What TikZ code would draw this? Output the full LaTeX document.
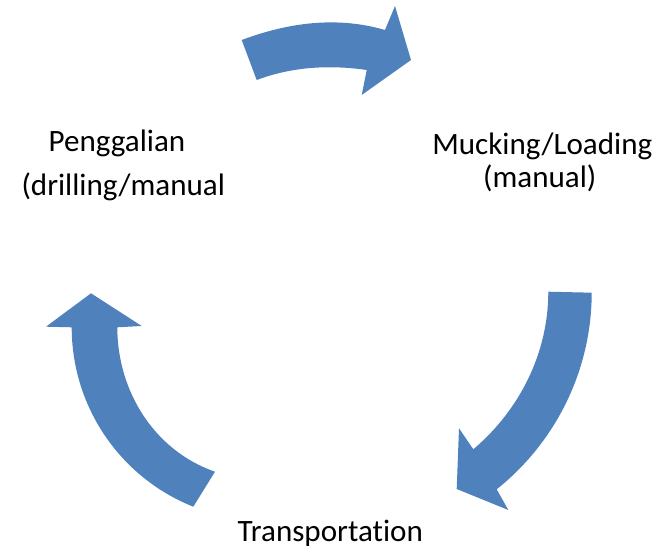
\documentclass[tikz,border=0pt]{standalone}
\usepackage{fontspec}
\setmainfont{Carlito}[Ligatures=NoCommon]
\usepackage{tikz}
\definecolor{arrowblue}{HTML}{4F81BD}

\begin{document}
\begin{tikzpicture}[x=0.75pt, y=-0.75pt,
        blockarrow/.style={fill=arrowblue, draw=none},
        lbl/.style={anchor=base, inner sep=0pt, font=\fontsize{23.3}{28}\selectfont}]
        \useasboundingbox (0,0) rectangle (657,548);

        % top arrow, left to right
        \fill[blockarrow] (241.7,40) .. controls (288.5,22.5) and (337,16) .. (385,30)
            -- (395,6) -- (411,60) -- (361.7,95) -- (366.7,70)
            .. controls (331.7,65) and (294.1,66) .. (256.7,80) -- cycle;

        % right arrow, going down
        \fill[blockarrow] (591.7,292.7) .. controls (591.7,369.3) and (556.5,441.5) .. (496.7,489.3)
            -- (508.3,510) -- (456.7,489) -- (459,428.3) -- (473.3,449.3)
            .. controls (519.9,409.8) and (548.3,352.8) .. (548.3,291.7) -- cycle;

        % left arrow, going up
        \fill[blockarrow] (193.3,506.7) .. controls (119.8,477.4) and (71.7,406.4) .. (71.7,327.3)
            -- (46,326.7) -- (91,293.3) -- (141.7,326) -- (117.3,327.3)
            .. controls (117.3,391.3) and (154.5,450.8) .. (215,471.7) -- cycle;

        \node[lbl] (penggalian) at (117,152) {Penggalian};
        \node[lbl] (drilling) at (123.3,196) {(drilling/manual};
        \node[lbl] (mucking) at (542.3,155) {Mucking/Loading};
        \node[lbl] (manual) at (539.8,188) {(manual)};
        \node[lbl] (transport) at (330.3,541.7) {Transportation};
    \end{tikzpicture}
\end{document}
